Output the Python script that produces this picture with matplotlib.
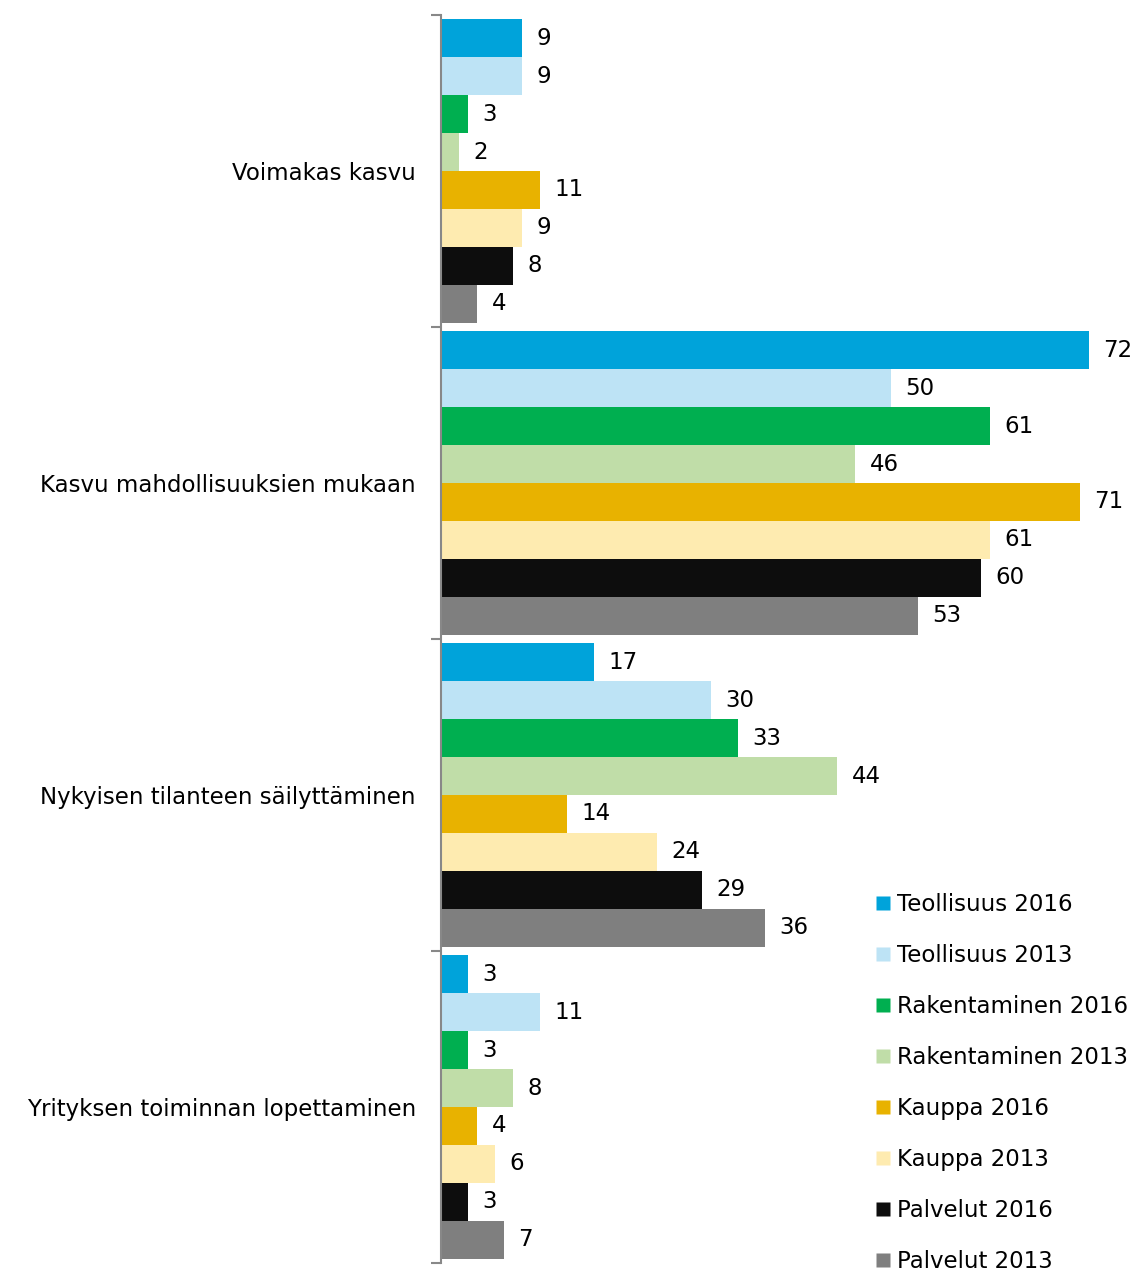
import numpy as np
import matplotlib.pyplot as plt
from matplotlib.lines import Line2D

categories = ["Voimakas kasvu", "Kasvu mahdollisuuksien mukaan",
              "Nykyisen tilanteen säilyttäminen", "Yrityksen toiminnan lopettaminen"]
series = ["Teollisuus 2016", "Teollisuus 2013", "Rakentaminen 2016", "Rakentaminen 2013",
          "Kauppa 2016", "Kauppa 2013", "Palvelut 2016", "Palvelut 2013"]
colors = ["#00A3DA", "#BDE3F5", "#00AF50", "#C0DDA8",
          "#E8B200", "#FEEBB0", "#0D0D0D", "#7F7F7F"]

teollisuus_2016 = [9, 72, 17, 3]
teollisuus_2013 = [9, 50, 30, 11]
rakentaminen_2016 = [3, 61, 33, 3]
rakentaminen_2013 = [2, 46, 44, 8]
kauppa_2016 = [11, 71, 14, 4]
kauppa_2013 = [9, 61, 24, 6]
palvelut_2016 = [8, 60, 29, 3]
palvelut_2013 = [4, 53, 36, 7]
values = [teollisuus_2016, teollisuus_2013, rakentaminen_2016, rakentaminen_2013,
          kauppa_2016, kauppa_2013, palvelut_2016, palvelut_2013]

W, H = 1135, 1272
fig = plt.figure(figsize=(W / 100, H / 100), dpi=100)
ax = fig.add_axes([441 / W, 9 / H, (1125 - 441) / W, (1263 - 15) / H])

n = len(series)
bh = 0.974 / n
fs = 16.5
for gi, cat in enumerate(categories):
    for si in range(n):
        y = gi + (si - (n - 1) / 2) * bh
        v = values[si][gi]
        ax.barh(y, v, height=bh, color=colors[si], edgecolor="none")
        ax.text(v + 1.6, y, str(v), va="center", ha="left", fontsize=fs, color="#000000")

ax.set_xlim(0, 76)
ax.set_ylim(len(categories) - 0.5, -0.5)
ax.set_yticks(np.arange(len(categories)))
ax.set_yticklabels(categories, fontsize=fs)
ax.set_yticks(np.arange(len(categories) + 1) - 0.5, minor=True)
ax.tick_params(axis="y", which="major", length=0, pad=18)
ax.tick_params(axis="y", which="minor", length=7, width=1.5, color="#888888")
ax.set_xticks([])
for s in ["top", "right", "bottom"]:
    ax.spines[s].set_visible(False)
ax.spines["left"].set_color("#888888")
ax.spines["left"].set_linewidth(1.5)

handles = [Line2D([], [], marker="s", linestyle="none", markersize=9.5,
                  markerfacecolor=c, markeredgecolor="none") for c in colors]
fig.legend(handles, series, loc="upper left", bbox_to_anchor=(876 / W, 1 - 893 / H),
           frameon=False, fontsize=fs, handlelength=0.6, handletextpad=0.3,
           labelspacing=1.22, borderpad=0, borderaxespad=0)

fig.savefig("out.png", dpi=100)
